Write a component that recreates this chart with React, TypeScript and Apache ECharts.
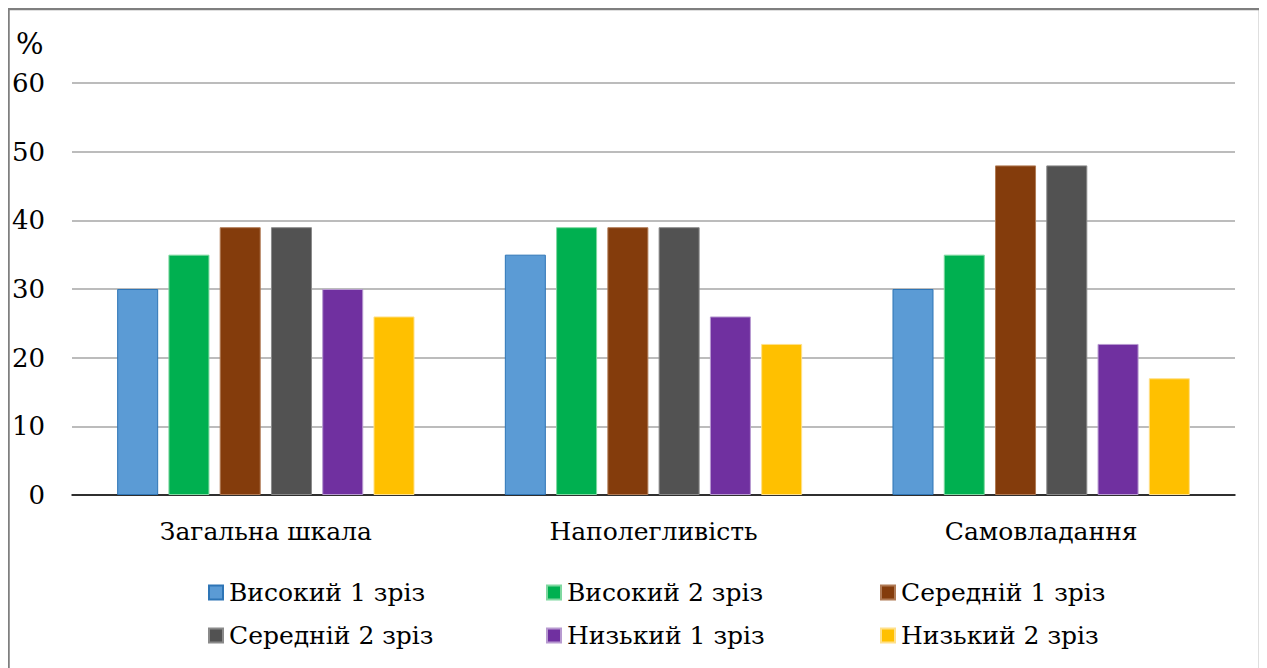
import React, { useEffect, useRef } from "react";
import * as echarts from "echarts";

const categories = ["Загальна шкала", "Наполегливість", "Самовладання"];
const seriesNames = [
  "Високий 1 зріз",
  "Високий 2 зріз",
  "Середній 1 зріз",
  "Середній 2 зріз",
  "Низький 1 зріз",
  "Низький 2 зріз",
];
const high1 = [30, 35, 30];
const high2 = [35, 39, 35];
const mid1 = [39, 39, 48];
const mid2 = [39, 39, 48];
const low1 = [30, 26, 22];
const low2 = [26, 22, 17];
const seriesValues = [high1, high2, mid1, mid2, low1, low2];
const colors = ["#5B9BD5", "#00B050", "#843C0C", "#525252", "#7030A0", "#FFC000"];
const borderColors = ["#2E75B6", "#7fd8a0", "#b07a55", "#8a8a8a", "#b79ad0", "#ffe08a"];
const yTicks = { min: 0, max: 60, interval: 10 };

const FONT = "DejaVu Serif";

export default function App() {
  const ref = useRef<HTMLDivElement>(null);
  useEffect(() => {
    if (!ref.current) return;
    const chart = echarts.init(ref.current, undefined, { renderer: "svg" });
    const legendPos = [
      { left: 200, top: 572 },
      { left: 538, top: 572 },
      { left: 872, top: 572 },
      { left: 200, top: 615 },
      { left: 538, top: 615 },
      { left: 872, top: 615 },
    ];
    chart.setOption({
      animation: false,
      backgroundColor: "#ffffff",
      textStyle: { fontFamily: FONT },
      graphic: [
        {
          type: "rect",
          shape: { x: 0.5, y: 1, width: 1251.5, height: 700 },
          style: { fill: "none", stroke: "#7f7f7f", lineWidth: 2.5 },
          silent: true,
        },
        {
          type: "text",
          left: 8,
          top: 21,
          style: { text: "%", fontSize: 29, fontFamily: FONT, fill: "#000" },
        },
      ],
      legend: seriesNames.map((n, i) => ({
        data: [n],
        left: legendPos[i].left,
        top: legendPos[i].top,
        orient: "horizontal",
        icon: "rect",
        itemWidth: 14,
        itemHeight: 14,
        itemGap: 0,
        padding: 0,
        textStyle: { fontSize: 25, fontFamily: FONT, color: "#000", padding: [0, 0, 0, 1] },
        selectedMode: false,
      })),
      grid: { left: 64, top: 75, width: 1163, height: 412, containLabel: false },
      xAxis: {
        type: "category",
        data: categories,
        axisLine: { lineStyle: { color: "#000", width: 1.5 } },
        axisTick: { show: false },
        axisLabel: { fontSize: 25, fontFamily: FONT, color: "#000", margin: 24 },
      },
      yAxis: {
        type: "value",
        min: yTicks.min,
        max: yTicks.max,
        interval: yTicks.interval,
        axisLine: { show: false },
        axisTick: { show: false },
        axisLabel: { fontSize: 26, fontFamily: FONT, color: "#000", margin: 27 },
        splitLine: { lineStyle: { color: "#a6a6a6", width: 1.5 } },
      },
      series: seriesNames.map((n, i) => ({
        name: n,
        type: "bar",
        data: seriesValues[i],
        barGap: "25%",
        barCategoryGap: "23.3%",
        itemStyle: { color: colors[i], borderColor: borderColors[i], borderWidth: 1 },
      })),
    });
    return () => chart.dispose();
  }, []);
  return <div ref={ref} style={{ width: 1254, height: 660 }} />;
}
